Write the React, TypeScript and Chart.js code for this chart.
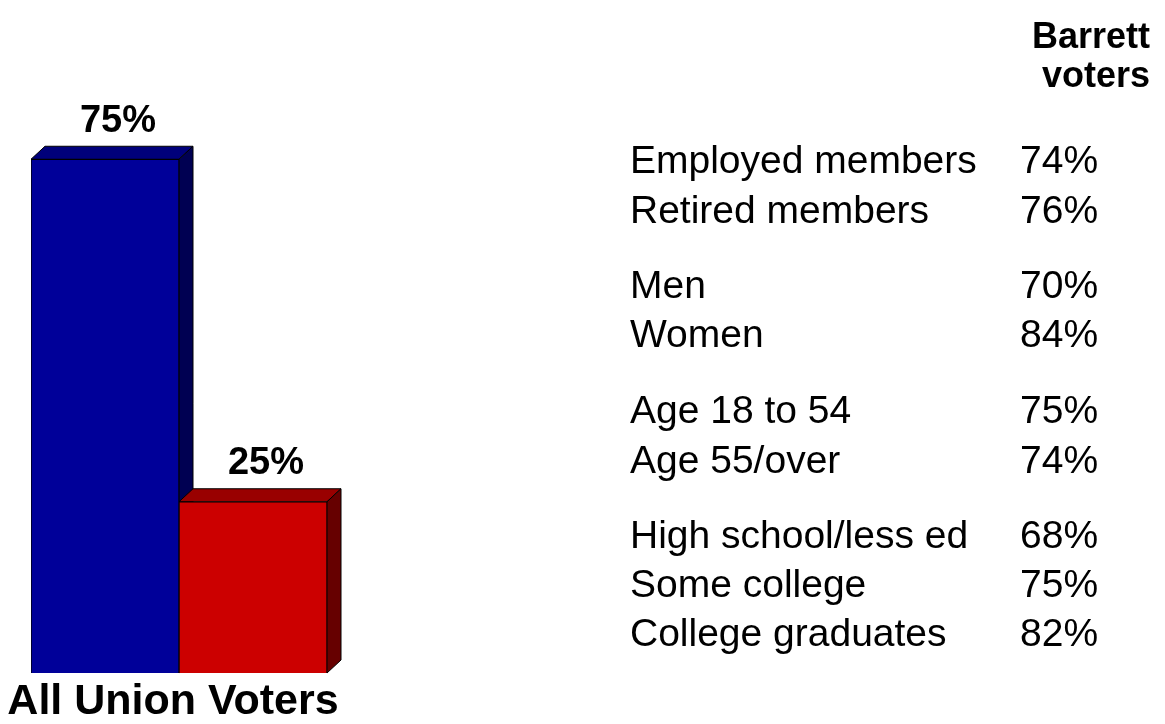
import React, { useEffect, useRef } from "react";
import { Chart, registerables } from "chart.js";

Chart.register(...registerables);

// ---- data ----
const categories = ["All Union Voters"];
const seriesNames = ["Barrett", "Other"];
const barrettShare = [75];
const otherShare = [25];
const seriesColors = ["#000099", "#cc0000"];
const topColors = ["#00007a", "#990000"];
const sideColors = ["#000052", "#660000"];

const headerLines = ["Barrett", "voters"];
const rowLabels = [
  "Employed members",
  "Retired members",
  "Men",
  "Women",
  "Age 18 to 54",
  "Age 55/over",
  "High school/less ed",
  "Some college",
  "College graduates",
];
const rowValues = [74, 76, 70, 84, 75, 74, 68, 75, 82];
const rowCenters = [160, 210, 285, 334, 410, 460, 535, 584, 633];

const FONT = '"Liberation Sans"';
const DEPTH_X = 14;
const DEPTH_Y = 13;

const threeDPlugin = {
  id: "threeD",
  beforeDatasetsDraw(chart: any) {
    const ctx = chart.ctx;
    ctx.save();
    ctx.lineWidth = 1;
    ctx.strokeStyle = "#000000";
    ctx.lineJoin = "miter";
    chart.data.datasets.forEach((_ds: any, di: number) => {
      const meta = chart.getDatasetMeta(di);
      meta.data.forEach((bar: any) => {
        const { x, y, base, width } = bar.getProps(["x", "y", "base", "width"], true);
        const l = x - width / 2;
        const r = x + width / 2;
        // top face
        ctx.beginPath();
        ctx.moveTo(l, y);
        ctx.lineTo(l + DEPTH_X, y - DEPTH_Y);
        ctx.lineTo(r + DEPTH_X, y - DEPTH_Y);
        ctx.lineTo(r, y);
        ctx.closePath();
        ctx.fillStyle = topColors[di];
        ctx.fill();
        ctx.stroke();
        // side face
        ctx.beginPath();
        ctx.moveTo(r, y);
        ctx.lineTo(r + DEPTH_X, y - DEPTH_Y);
        ctx.lineTo(r + DEPTH_X, base - DEPTH_Y);
        ctx.lineTo(r, base);
        ctx.closePath();
        ctx.fillStyle = sideColors[di];
        ctx.fill();
        ctx.stroke();
      });
    });
    ctx.restore();
  },
  afterDatasetsDraw(chart: any) {
    const ctx = chart.ctx;
    ctx.save();
    ctx.fillStyle = "#000000";
    ctx.textAlign = "center";
    ctx.textBaseline = "middle";
    ctx.font = `bold 38px ${FONT}`;
    chart.data.datasets.forEach((ds: any, di: number) => {
      const meta = chart.getDatasetMeta(di);
      meta.data.forEach((bar: any, i: number) => {
        const { x, y } = bar.getProps(["x", "y"], true);
        ctx.fillText(`${ds.data[i]}%`, x + 13, y - 38);
      });
    });
    // category label under the group
    const xs = chart.scales.x;
    ctx.font = `bold 43px ${FONT}`;
    categories.forEach((c, i) => {
      ctx.fillText(c, xs.getPixelForValue(i) - 6, 702);
    });
    ctx.restore();
  },
};

export default function App() {
  const ref = useRef<HTMLCanvasElement | null>(null);

  useEffect(() => {
    if (!ref.current) return;
    const chart = new Chart(ref.current, {
      type: "bar",
      data: {
        labels: categories,
        datasets: [
          {
            label: seriesNames[0],
            data: barrettShare,
            backgroundColor: seriesColors[0],
            borderColor: "#000000",
            borderWidth: 1,
          },
          {
            label: seriesNames[1],
            data: otherShare,
            backgroundColor: seriesColors[1],
            borderColor: "#000000",
            borderWidth: 1,
          },
        ],
      },
      options: {
        responsive: false,
        animation: false,
        layout: { padding: { left: 31, right: 838, top: 125, bottom: 51 } },
        datasets: { bar: { categoryPercentage: 1, barPercentage: 1 } } as any,
        plugins: { legend: { display: false }, tooltip: { enabled: false } },
        scales: {
          x: { display: false },
          y: { display: false, min: 0, max: 80 },
        },
      },
      plugins: [threeDPlugin],
    });
    return () => chart.destroy();
  }, []);

  const rowStyle = (center: number, size: number): React.CSSProperties => ({
    position: "absolute",
    top: center - size * 0.6,
    height: size * 1.2,
    lineHeight: `${size * 1.2}px`,
    fontSize: size,
    fontFamily: FONT,
    color: "#000",
    whiteSpace: "nowrap",
  });

  return (
    <div
      style={{
        position: "absolute",
        left: 0,
        top: 0,
        width: 1165,
        height: 724,
        background: "#ffffff",
        overflow: "hidden",
      }}
    >
      <canvas ref={ref} width={1165} height={724} style={{ position: "absolute", left: 0, top: 0 }} />
      {headerLines.map((h, i) => (
        <div
          key={h}
          style={{
            ...rowStyle(i === 0 ? 36 : 75, 36),
            left: 1000,
            width: 150,
            textAlign: "right",
            fontWeight: "bold",
          }}
        >
          {h}
        </div>
      ))}
      {rowLabels.map((lab, i) => (
        <React.Fragment key={lab}>
          <div style={{ ...rowStyle(rowCenters[i], 39), left: 630 }}>{lab}</div>
          <div style={{ ...rowStyle(rowCenters[i], 39), left: 1020 }}>{`${rowValues[i]}%`}</div>
        </React.Fragment>
      ))}
    </div>
  );
}
